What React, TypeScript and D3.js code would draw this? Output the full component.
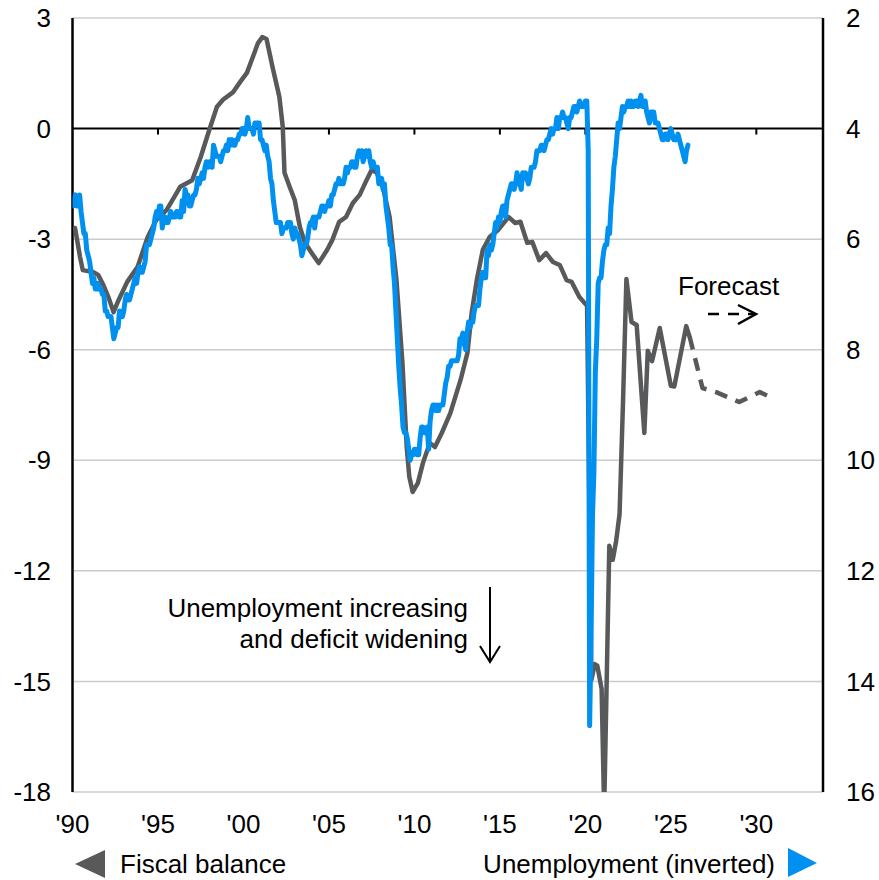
import React from "react";
import * as d3 from "d3";

// Monthly unemployment rate (%), Jan 1990 onward
const unemploymentStartYear = 1990;
const unemploymentMonthly: number[] = [
  5.4, 5.3, 5.2, 5.4, 5.4, 5.2, 5.5, 5.7, 5.9, 5.9, 6.2, 6.3,
  6.4, 6.6, 6.8, 6.7, 6.9, 6.9, 6.8, 6.9, 6.9, 7.0, 7.0, 7.3,
  7.3, 7.4, 7.4, 7.4, 7.6, 7.8, 7.7, 7.6, 7.6, 7.3, 7.4, 7.4,
  7.3, 7.1, 7.0, 7.1, 7.1, 7.0, 6.9, 6.8, 6.7, 6.8, 6.6, 6.5,
  6.6, 6.6, 6.5, 6.4, 6.1, 6.1, 6.1, 6.0, 5.9, 5.8, 5.6, 5.5,
  5.6, 5.4, 5.4, 5.8, 5.6, 5.6, 5.7, 5.7, 5.6, 5.5, 5.6, 5.6,
  5.6, 5.5, 5.5, 5.6, 5.6, 5.3, 5.5, 5.1, 5.2, 5.2, 5.4, 5.4,
  5.3, 5.2, 5.2, 5.1, 4.9, 5.0, 4.9, 4.8, 4.9, 4.7, 4.6, 4.7,
  4.6, 4.6, 4.7, 4.3, 4.4, 4.5, 4.5, 4.5, 4.6, 4.5, 4.4, 4.4,
  4.3, 4.4, 4.2, 4.3, 4.2, 4.3, 4.3, 4.2, 4.2, 4.1, 4.1, 4.0,
  4.0, 4.1, 4.0, 3.8, 4.0, 4.0, 4.0, 4.1, 3.9, 3.9, 3.9, 3.9,
  4.2, 4.2, 4.3, 4.4, 4.3, 4.5, 4.6, 4.9, 5.0, 5.3, 5.5, 5.7,
  5.7, 5.7, 5.7, 5.9, 5.8, 5.8, 5.8, 5.7, 5.7, 5.7, 5.9, 6.0,
  5.8, 5.9, 5.9, 6.0, 6.1, 6.3, 6.2, 6.1, 6.1, 6.0, 5.8, 5.7,
  5.7, 5.6, 5.8, 5.6, 5.6, 5.6, 5.5, 5.4, 5.4, 5.5, 5.4, 5.4,
  5.3, 5.4, 5.2, 5.2, 5.1, 5.0, 5.0, 4.9, 5.0, 5.0, 5.0, 4.9,
  4.7, 4.8, 4.7, 4.7, 4.6, 4.6, 4.7, 4.7, 4.5, 4.4, 4.5, 4.4,
  4.6, 4.5, 4.4, 4.5, 4.4, 4.6, 4.7, 4.6, 4.7, 4.7, 4.7, 5.0,
  5.0, 4.9, 5.1, 5.0, 5.4, 5.6, 5.8, 6.1, 6.1, 6.5, 6.8, 7.3,
  7.8, 8.3, 8.7, 9.0, 9.4, 9.5, 9.5, 9.6, 9.8, 10.0, 9.9, 9.9,
  9.8, 9.8, 9.9, 9.9, 9.6, 9.4, 9.4, 9.5, 9.5, 9.4, 9.8, 9.3,
  9.1, 9.0, 9.0, 9.1, 9.0, 9.1, 9.0, 9.0, 9.0, 8.8, 8.6, 8.5,
  8.3, 8.3, 8.2, 8.2, 8.2, 8.2, 8.2, 8.1, 7.8, 7.8, 7.7, 7.9,
  8.0, 7.7, 7.5, 7.6, 7.5, 7.5, 7.3, 7.2, 7.2, 7.2, 6.9, 6.7,
  6.6, 6.7, 6.7, 6.2, 6.3, 6.1, 6.2, 6.1, 5.9, 5.7, 5.8, 5.6,
  5.7, 5.5, 5.4, 5.4, 5.6, 5.3, 5.2, 5.1, 5.0, 5.0, 5.1, 5.0,
  4.8, 4.9, 5.0, 5.1, 4.8, 4.9, 4.8, 4.9, 5.0, 4.9, 4.7, 4.7,
  4.7, 4.6, 4.4, 4.4, 4.4, 4.3, 4.3, 4.4, 4.3, 4.2, 4.2, 4.1,
  4.0, 4.1, 4.0, 4.0, 3.8, 4.0, 3.8, 3.8, 3.7, 3.8, 3.8, 3.9,
  4.0, 3.8, 3.8, 3.7, 3.6, 3.6, 3.7, 3.6, 3.5, 3.6, 3.6, 3.6,
  3.5, 3.5, 4.4, 14.8, 13.2, 11.0, 10.2, 8.4, 7.8, 6.8, 6.7, 6.7,
  6.4, 6.2, 6.1, 6.1, 5.8, 5.9, 5.4, 5.1, 4.7, 4.5, 4.2, 3.9,
  4.0, 3.8, 3.6, 3.7, 3.6, 3.6, 3.5, 3.6, 3.5, 3.6, 3.6, 3.5,
  3.5, 3.6, 3.5, 3.4, 3.6, 3.6, 3.5, 3.7, 3.8, 3.9, 3.7, 3.7,
  3.7, 3.9, 3.9, 3.9, 4.0, 4.1, 4.2, 4.2, 4.1, 4.1, 4.2, 4.1,
  4.0, 4.1, 4.2, 4.2, 4.2, 4.1, 4.2, 4.3, 4.4, 4.5, 4.6, 4.4,
  4.3,
];

// Fiscal balance (% of GDP)
const fiscalYears: number[] = [
  1990.15, 1990.44, 1990.6, 1991.2, 1991.5, 1991.8, 1992.1, 1992.4, 1992.7, 1993.2,
  1993.8, 1994.4, 1994.9, 1995.5, 1996.3, 1997.0, 1997.5, 1998.0, 1998.45, 1998.8,
  1999.4, 1999.8, 2000.2, 2000.55, 2000.85, 2001.1, 2001.35, 2001.7, 2002.1, 2002.3,
  2002.4, 2002.7, 2003.0, 2003.3, 2003.6, 2004.0, 2004.4, 2004.9, 2005.2, 2005.6,
  2006.0, 2006.4, 2006.8, 2007.2, 2007.5, 2007.8, 2008.15, 2008.55, 2008.95, 2009.3,
  2009.55, 2009.7, 2009.9, 2010.2, 2010.5, 2010.9, 2011.2, 2011.6, 2012.1, 2012.7,
  2013.1, 2013.35, 2013.65, 2014.0, 2014.4, 2014.9, 2015.5, 2015.9, 2016.2, 2016.6,
  2016.9, 2017.3, 2017.7, 2018.1, 2018.5, 2018.9, 2019.2, 2019.65, 2020.1, 2020.35,
  2020.55, 2020.7, 2020.95, 2021.1, 2021.4, 2021.6, 2021.8, 2022.0, 2022.2, 2022.4,
  2022.7, 2023.0, 2023.45, 2023.65, 2023.9, 2024.35, 2025.0, 2025.2, 2025.9, 2026.1,
];
const fiscalValues: number[] = [
  -2.7, -3.48, -3.84, -3.89, -3.97, -4.24, -4.57, -4.98, -4.65, -4.16,
  -3.76, -2.94, -2.48, -2.21, -1.58, -1.4, -0.77, -0.04, 0.59, 0.78,
  0.99, 1.26, 1.51, 1.94, 2.32, 2.48, 2.43, 1.67, 0.86, 0.04,
  -1.2, -1.58, -1.94, -2.67, -3.1, -3.38, -3.65, -3.29, -3.02, -2.53,
  -2.4, -2.02, -1.8, -1.4, -1.12, -1.2, -1.58, -2.4, -4.11, -6.36,
  -8.64, -9.45, -9.86, -9.62, -9.07, -8.53, -8.64, -8.26, -7.72, -6.82,
  -6.09, -5.0, -4.11, -3.29, -2.94, -2.75, -2.4, -2.56, -2.53, -3.1,
  -3.08, -3.57, -3.38, -3.62, -3.7, -4.11, -4.16, -4.57, -4.81, -14.96,
  -14.53, -14.58, -15.2, -18.5, -11.32, -11.7, -11.19, -10.46, -7.45, -4.08,
  -5.25, -5.33, -8.26, -6.03, -6.31, -5.41, -6.98, -7.0, -5.36, -5.65,
];

// Fiscal balance forecast (dashed)
const forecastYears: number[] = [2026.1, 2026.85, 2027.65, 2029.0, 2030.2, 2030.95];
const forecastValues: number[] = [-5.65, -7.04, -7.15, -7.42, -7.15, -7.31];

const leftTicks: number[] = [3, 0, -3, -6, -9, -12, -15, -18];
const rightTicks: number[] = [2, 4, 6, 8, 10, 12, 14, 16];
const xTickYears: number[] = [1990, 1995, 2000, 2005, 2010, 2015, 2020, 2025, 2030];
const xTickLabels: string[] = ["'90", "'95", "'00", "'05", "'10", "'15", "'20", "'25", "'30"];

const GRAY = "#58595b";
const BLUE = "#0090f0";
const FONT = "'Liberation Sans', Arial, sans-serif";

export default function App() {
  const left = 72.5, right = 823, top = 18, bottom = 792;
  const x = d3.scaleLinear().domain([1990, 2033.9]).range([left, right]);
  const yL = d3.scaleLinear().domain([-18, 3]).range([bottom, top]);
  const yR = d3.scaleLinear().domain([16, 2]).range([bottom, top]);

  const unemp = unemploymentMonthly.map((v, i) => ({ t: unemploymentStartYear + i / 12, v }));
  const fiscal = fiscalYears.map((t, i) => ({ t, v: fiscalValues[i] }));
  const forecast = forecastYears.map((t, i) => ({ t, v: forecastValues[i] }));

  const lineL = d3.line<{ t: number; v: number }>().x((d) => x(d.t)).y((d) => yL(d.v));
  const lineR = d3.line<{ t: number; v: number }>().x((d) => x(d.t)).y((d) => yR(d.v));

  const y0 = yL(0);

  return (
    <svg width={879} height={880} style={{ position: "absolute", left: 0, top: 0, background: "#fff" }} fontFamily={FONT}>
      <defs>
        <clipPath id="plot">
          <rect x={left} y={top} width={right - left} height={bottom - top} />
        </clipPath>
      </defs>
      {/* gridlines */}
      {leftTicks.filter((t) => t !== 0).map((t) => (
        <line key={t} x1={left} x2={right} y1={yL(t)} y2={yL(t)} stroke="#cccccc" strokeWidth={1.5} />
      ))}
      {/* zero line */}
      <line x1={left} x2={right} y1={y0} y2={y0} stroke="#000" strokeWidth={2} />
      {xTickYears.slice(1).map((yr) => (
        <line key={yr} x1={x(yr)} x2={x(yr)} y1={y0} y2={y0 + 6} stroke="#000" strokeWidth={2} />
      ))}
      {/* axes */}
      <line x1={left} x2={left} y1={top} y2={bottom} stroke="#000" strokeWidth={2.5} />
      <line x1={right} x2={right} y1={top} y2={bottom} stroke="#000" strokeWidth={2.5} />

      <g clipPath="url(#plot)">
        <path d={lineL(fiscal) || ""} fill="none" stroke={GRAY} strokeWidth={4.5} strokeLinejoin="round" strokeLinecap="round" />
        <path d={lineL(forecast) || ""} fill="none" stroke={GRAY} strokeWidth={4.5} strokeDasharray="13 9" strokeLinejoin="round" />
        <path d={lineR(unemp) || ""} fill="none" stroke={BLUE} strokeWidth={5} strokeLinejoin="round" strokeLinecap="round" />
      </g>

      {/* left tick labels */}
      {leftTicks.map((t) => (
        <text key={t} x={51} y={yL(t)} dy="0.35em" textAnchor="end" fontSize={26} fill="#000">{t}</text>
      ))}
      {/* right tick labels */}
      {rightTicks.map((t) => (
        <text key={t} x={846} y={yR(t)} dy="0.35em" textAnchor="start" fontSize={26} fill="#000">{t}</text>
      ))}
      {/* x tick labels */}
      {xTickYears.map((yr, i) => (
        <text key={yr} x={x(yr)} y={833} textAnchor="middle" fontSize={26} fill="#000">{xTickLabels[i]}</text>
      ))}

      {/* annotations */}
      <text x={678} y={295} fontSize={26} fill="#000">Forecast</text>
      <line x1={708} x2={754} y1={314} y2={314} stroke="#000" strokeWidth={2.5} strokeDasharray="11 9" />
      <polyline points="738,305 756,314 738,324" fill="none" stroke="#000" strokeWidth={2.5} />

      <text x={468} y={617} textAnchor="end" fontSize={26} fill="#000">Unemployment increasing</text>
      <text x={468} y={648} textAnchor="end" fontSize={26} fill="#000">and deficit widening</text>
      <line x1={490} x2={490} y1={587} y2={661} stroke="#000" strokeWidth={2} />
      <polyline points="480,646 490,662 500,646" fill="none" stroke="#000" strokeWidth={2} />

      {/* legend */}
      <polygon points="75,864 105,850 105,878" fill={GRAY} />
      <text x={120} y={873} fontSize={26} fill="#000">Fiscal balance</text>
      <text x={775} y={873} textAnchor="end" fontSize={26} fill="#000">Unemployment (inverted)</text>
      <polygon points="788,848 817,863 788,877" fill={BLUE} />
    </svg>
  );
}
